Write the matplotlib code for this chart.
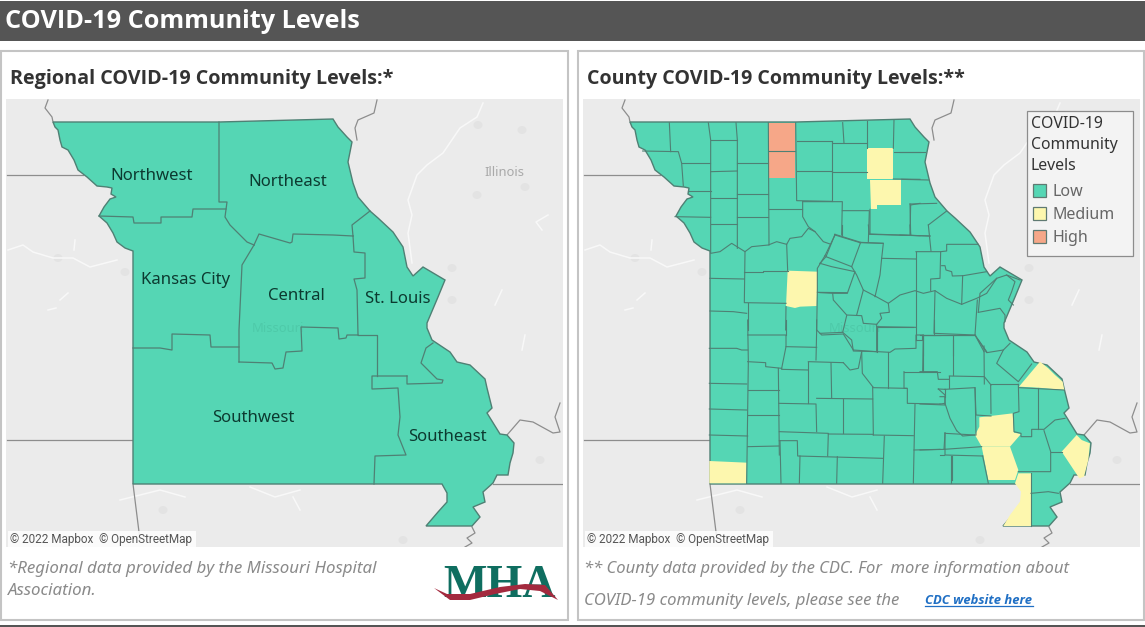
"""Missouri COVID-19 community levels dashboard, two map panels."""
import matplotlib
matplotlib.use("Agg")
import matplotlib.pyplot as plt
from matplotlib.patches import Ellipse, Polygon, Rectangle

# map geometry, in page pixels of the left panel
STATE = [(53,122),(55,127),(58,130),(60,140),(62,147),(68,150),(74,160),(78,170),(87,177),(97,186),(107,187),
         (112,188),(111,194),(116,197),(110,199),(104,207),(99,216),(107,223),(113,233),(117,242),(125,248),
         (133,251),(133,484),(442,484),(447,493),(447,502),(438,512),(426,526),(472,526),(480,517),(473,507),
         (485,502),(483,492),(493,483),(497,475),(508,475),(510,463),(513,453),(514,443),(507,435),(500,434),
         (487,413),(492,408),(487,388),(485,379),(470,365),(457,362),(450,352),(432,340),(427,328),(427,323),
         (438,297),(445,280),(423,267),(413,276),(407,267),(403,247),(393,232),(378,218),(370,211),(358,197),
         (353,183),(348,162),(352,142),(347,137),(338,127),(333,119),(219,122)]

REGION_LINES = [
    [(219,122),(219,202),(227,202),(225,217),(230,225),(238,233),(247,242),(254,245)],
    [(99,216),(133,217),(134,223),(161,223),(161,217),(192,217),(193,209),(226,209)],
    [(254,245),(248,255),(242,265),(239,330),(239,362)],
    [(133,348),(160,348),(172,350),(172,334),(210,335),(211,347),(239,347)],
    [(239,362),(272,363),(275,369),(283,368),(286,352),(302,351),(301,327),(338,328),(339,339),(346,338),(347,335),(358,335)],
    [(254,245),(259,234),(290,243),(292,242),(293,234),(333,235),(353,236)],
    [(353,236),(354,252),(365,253),(365,278),(354,279),(357,290),(358,335)],
    [(370,211),(352,225),(353,236)],
    [(358,335),(377,335),(377,376)],
    [(407,376),(372,376),(372,389),(398,388),(400,417),(398,435),(406,455),(375,456),(374,484)],
    [(407,376),(407,384),(442,383),(443,380),(437,379),(421,363),(426,348),(433,343)],
]

REGION_NAMES = ["Northwest", "Northeast", "Kansas City", "Central", "St. Louis", "Southwest", "Southeast"]
REGION_XY = [(152,174), (288,180), (186,278), (296,294), (398,297), (253,416), (447,435)]

# surroundings, left panel pixels
STATE_BORDERS = [
    [(48,100),(45,108),(52,117),(53,122)],
    [(7,175),(83,175)],
    [(7,440),(133,440)],
    [(133,484),(140,540)],
    [(493,484),(563,484)],
    [(507,435),(520,420),(533,422),(553,433),(560,432),(555,417),(560,403)],
    [(377,100),(374,113),(358,120),(355,128),(357,140)],
    [(472,527),(475,533),(467,538),(472,543),(465,547)],
]
RIVERS = [
    [(483,103),(477,117),(460,128),(443,153),(427,165),(417,175),(408,200),(412,215),(408,233),(412,263)],
    [(8,250),(23,245),(33,252),(53,258),(73,258),(90,267),(117,260)],
    [(542,230),(536,222),(548,215)],
    [(495,305),(502,290)],
    [(75,240),(74,250)],
    [(60,300),(68,293)],
    [(48,310),(56,308)],
    [(120,500),(160,490),(185,497)],
    [(250,487),(275,497),(300,490)],
    [(293,497),(300,510)],
    [(525,335),(522,350)],
]
PATCHES = [(478,125),(522,130),(477,195),(525,187),(452,268),(452,300),(58,258),(125,272),(163,510),(540,460),(403,540)]

LINES_NORTH = ((620,110), [
    [(68,123),(175,125),(185,160),(190,228)],[(148,38),(152,125)],[(185,160),(270,160)],
    [(265,38),(272,90),(272,428)],[(205,243),(272,243)],[(165,320),(272,322)],
    [(272,90),(350,90)],[(272,185),(352,183)],[(272,263),(352,263)],[(272,341),(352,341)],
    [(348,38),(352,90),(352,415)],[(352,158),(445,158)],[(352,252),(445,252)],[(352,322),(445,322)],
    [(445,38),(447,405)],[(446,124),(525,124)],[(447,298),(545,298)],[(527,38),(530,272),(635,274)],[(530,92),(635,92)],
    [(530,184),(635,184)],[(635,92),(635,274)],[(635,100),(740,100)],[(668,38),(672,100)],[(635,186),(740,186)],
    [(548,275),(548,320),(565,350),(585,365)],[(548,275),(667,275),(665,375)],[(667,302),(748,302),(745,395)],
    [(272,430),(300,425),(335,400),(375,425),(395,410),(445,405),(470,395),(500,403),(510,385),(545,380),(565,355),(585,365),(610,395),(630,402)],
    [(740,32),(740,115)],[(822,30),(820,115)],[(822,127),(900,127)],[(820,207),(900,208)],[(872,285),(900,280)],
    [(872,285),(870,375)],[(750,298),(750,372),(900,377)],[(720,398),(790,400)],
    [(645,375),(615,437)],[(645,375),(720,398)],
    [(615,437),(592,475),(592,547),(682,548)],[(500,403),(503,482)],
    [(375,425),(373,578),(498,580)],[(373,487),(430,487),(430,482),(503,482)],[(498,590),(497,660)],[(383,580),(383,660)],
    [(270,505),(373,507)],[(270,603),(340,605),(380,610)],[(592,547),(590,660)],
])
LINES_EAST = ((900,100), [
    [(0,155),(75,155)],[(5,238),(85,240)],[(30,312),(110,310)],[(30,312),(32,405)],[(0,405),(90,408)],
    [(85,375),(140,333)],
])
LINES_CENTER = ((820,225), [
    [(65,0),(65,30)],[(145,0),(148,28),(330,33)],[(270,0),(272,30)],[(325,0),(333,78)],
    [(45,28),(122,52),(95,125),(18,95),(45,28)],[(122,52),(190,55),(185,100),(180,150),(165,215)],
    [(95,125),(110,150),(130,195),(165,213)],[(18,95),(0,115)],[(0,115),(35,125),(105,140),(82,205),(38,205),(0,203)],
    [(130,195),(110,270)],[(38,205),(40,225),(80,270),(125,272),(130,295),(170,298)],
    [(165,213),(205,235),(240,210),(285,197),(310,205),(345,197),(380,220),(425,238),(470,220),(500,205),(530,160),(560,150),(600,165)],
    [(205,235),(208,262),(180,265),(185,280),(170,298),(170,380)],[(185,100),(288,102)],[(288,80),(288,345)],
    [(288,80),(362,80),(360,160),(332,162),(332,197)],[(362,80),(380,78),(380,58),(475,58)],
    [(365,122),(375,122),(378,135),(395,140),(397,153),(430,152),(500,140)],[(428,152),(425,238)],
    [(170,305),(288,307)],[(345,197),(342,325),(465,330)],[(472,225),(465,330),(500,380)],
    [(475,262),(540,250),(555,270),(555,290)],[(530,160),(480,205),(475,262)],
    [(560,150),(585,170),(575,200),(565,225),(580,240)],[(80,272),(68,322),(95,345),(100,378),(170,380)],
    [(288,345),(305,345),(305,330),(465,330)],[(400,332),(400,390)],[(310,330),(310,390)],[(0,325),(68,322)],
])
LINES_SOUTH = ((700,320), [
    [(28,85),(110,85),(125,90),(143,90)],[(143,0),(145,125),(140,490)],[(28,190),(140,192)],[(28,267),(140,270)],
    [(28,345),(143,348)],[(143,45),(258,45),(258,80),(245,145)],[(143,125),(197,128),(197,140),(245,145)],
    [(258,80),(350,82)],[(245,148),(325,150)],[(258,0),(258,45)],[(350,0),(350,30),(348,120)],[(325,125),(430,128)],
    [(325,125),(325,250)],[(235,145),(238,405)],[(143,210),(237,210)],[(143,285),(237,285)],[(143,380),(237,378)],
    [(237,250),(348,252),(350,335)],[(350,235),(518,237)],[(393,128),(395,235)],[(430,237),(430,340)],
    [(518,200),(520,345)],[(350,30),(365,45),(430,42),(460,90),(530,95)],[(485,95),(487,160),(518,200)],
    [(430,128),(450,150),(475,145),(485,95)],[(530,95),(530,22),(640,22)],
    [(533,95),(570,97),(585,87),(648,85),(648,45),(668,45)],[(565,97),(565,205)],[(520,203),(620,205)],
    [(612,155),(612,205),(622,205),(622,250),(720,252)],[(612,155),(720,155)],[(668,45),(668,155)],[(670,45),(720,45)],
    [(645,252),(640,490)],[(642,390),(720,388)],[(520,343),(385,342)],[(238,335),(385,340),(383,408)],
    [(238,362),(292,362),(293,408),(548,415)],[(553,348),(548,490)],[(520,345),(640,347)],[(300,408),(298,490)],
    [(412,410),(410,490)],[(240,362),(243,490)],
])
LINES_SOUTHEAST = ((920,320), [
    [(0,45),(165,45)],[(42,0),(42,45)],[(165,45),(192,95)],[(10,45),(8,155)],
    [(0,155),(52,155),(55,178),(88,178)],[(55,207),(75,208)],[(55,207),(75,225),(75,255),(0,252)],
    [(75,338),(75,405),(188,408)],[(75,388),(0,390)],[(93,408),(93,490)],[(188,408),(205,490)],
    [(333,460),(333,618)],[(333,520),(385,515),(415,520)],
])
LINES_DELTA = ((940,340), [
    [(40,0),(40,105)],[(115,0),(140,38),(190,30),(210,10)],[(190,30),(170,70),(235,125),(275,72)],
    [(132,18),(133,132)],[(28,108),(133,110),(153,135)],[(153,133),(235,133)],[(28,108),(28,145)],
    [(15,148),(105,143),(108,225),(153,228)],[(0,170),(15,170),(15,190),(0,192)],[(15,148),(15,170)],
    [(15,190),(30,235),(50,272)],[(105,143),(108,285)],[(152,135),(153,220)],
    [(235,133),(237,215),(220,220),(222,275),(243,280),(243,290),(275,290),(275,268),(312,268),(345,240),(375,235)],
    [(295,143),(295,268)],[(237,143),(372,150)],[(312,272),(332,335),(332,395),(235,395)],[(332,335),(365,335)],
    [(50,272),(68,288),(105,285)],[(15,280),(105,285)],[(15,280),(12,328),(125,320)],[(35,348),(35,420)],[(0,345),(12,345)],
])

# counties that are not Low, same crops
MEDIUM_COUNTIES = [
    ((620,110), [(740,115),(820,115),(820,207),(740,207)]),
    ((620,110), [(750,210),(842,210),(842,285),(770,285),(770,298),(752,298)]),
    ((620,110), [(503,482),(592,485),(590,588),(540,590),(525,594),(498,588)]),
    ((700,320), [(28,423),(140,428),(138,490),(28,490)]),
    ((940,340), [(118,232),(218,220),(222,278),(243,282),(210,320),(125,320),(105,285),(118,260)]),
    ((940,340), [(125,320),(210,320),(235,390),(225,420),(145,420)]),
    ((920,320), [(295,460),(333,460),(333,618),(250,618),(270,585),(300,545),(303,515),(285,490)]),
    ((940,340), [(237,140),(300,65),(325,85),(345,105),(368,125),(373,150),(295,143)]),
    ((940,340), [(365,335),(410,285),(425,300),(450,310),(445,360),(432,410),(418,415)]),
]
HIGH_COUNTIES = [
    ((620,110), [(445,38),(525,38),(525,124),(446,124)]),
    ((620,110), [(446,124),(525,124),(525,205),(447,205)]),
]

LEVELS = ["Low", "Medium", "High"]
LEVEL_COLORS = ["#55d6b4", "#fdf7ae", "#f6a788"]
BORDER = "#4f8074"
PANEL_SHIFT = 577

plt.rcParams["font.family"] = ["Noto Sans", "DejaVu Sans"]


def from_crop(origin, pts):
    return [(origin[0] + x / 3, origin[1] + y / 3) for x, y in pts]


def shifted(pts, dx):
    return [(x + dx, y) for x, y in pts]


def px(size):
    return size * 0.72


def line(ax, pts, clip=None, **kw):
    xs, ys = zip(*pts)
    art, = ax.plot(xs, ys, solid_joinstyle="round", **kw)
    if clip is not None:
        art.set_clip_path(clip)
    return art


def draw_base(ax, dx):
    """Grey base map with the filled state on top."""
    back = Rectangle((6 + dx, 99), 557, 448, fc="#ebebeb", ec="none", zorder=1)
    ax.add_patch(back)
    for x, y in PATCHES:
        spot = Ellipse((x + dx, y), 9, 8, fc="#e3e3e3", ec="none", zorder=1.1)
        ax.add_patch(spot)
        spot.set_clip_path(back)
    for pts in RIVERS:
        line(ax, shifted(pts, dx), clip=back, color="#f8f8f8", lw=1.1, zorder=1.2)
    for pts in STATE_BORDERS:
        line(ax, shifted(pts, dx), clip=back, color="#8d8d8d", lw=0.9, zorder=1.3)
    ax.text(504 + dx, 173, "Illinois", fontsize=px(13), color="#a9a9a9", ha="center", va="center", zorder=1.4)
    ax.add_patch(Polygon(shifted(STATE, dx), closed=True, fc=LEVEL_COLORS[0], ec=BORDER, lw=1.0, zorder=2))
    ax.text(278 + dx, 329, "Missouri", fontsize=px(13), color="#4ecaa9", ha="center", va="center", zorder=2.1)
    ax.add_patch(Rectangle((8 + dx, 531), 188, 16, fc="white", ec="none", alpha=0.85, zorder=4))
    ax.text(10 + dx, 539, "© 2022 Mapbox  © OpenStreetMap", fontsize=px(11.7), color="#555555",
            va="center", family="Roboto", zorder=5)


fig = plt.figure(figsize=(11.45, 6.27), dpi=100, facecolor="white")
ax = fig.add_axes([0, 0, 1, 1])
ax.set_xlim(0, 1145)
ax.set_ylim(627, 0)
ax.axis("off")

# header and frames
ax.add_patch(Rectangle((0, 1), 1145, 40, fc="#555555", ec="none"))
ax.add_patch(Rectangle((0, 625), 1145, 2, fc="#555555", ec="none"))
ax.text(5, 22, "COVID-19 Community Levels", fontsize=px(25.3), fontweight="bold", family="Open Sans", color="white", va="center")
for x0, x1 in [(1, 568), (578, 1144)]:
    ax.add_patch(Rectangle((x0, 50.5), x1 - x0, 569, fc="white", ec="#c4c4c4", lw=1.5))
ax.text(10, 79, "Regional COVID-19 Community Levels:*", fontsize=px(19.8), fontweight="bold", family="Open Sans", color="#333333", va="center")
ax.text(587, 79, "County COVID-19 Community Levels:**", fontsize=px(19.7), fontweight="bold", family="Open Sans", color="#333333", va="center")

# left map
draw_base(ax, 0)
for pts in REGION_LINES:
    line(ax, pts, color=BORDER, lw=0.9, zorder=3)
for name, (x, y) in zip(REGION_NAMES, REGION_XY):
    ax.text(x, y + 2, name, fontsize=px(16.7), color="#0c3a30", ha="center", va="center", zorder=4)

# right map
draw_base(ax, PANEL_SHIFT)
for origin, pts in MEDIUM_COUNTIES:
    ax.add_patch(Polygon(from_crop(origin, pts), closed=True, fc=LEVEL_COLORS[1], ec="none", zorder=2.5))
for origin, pts in HIGH_COUNTIES:
    ax.add_patch(Polygon(from_crop(origin, pts), closed=True, fc=LEVEL_COLORS[2], ec="none", zorder=2.5))
for origin, segments in [LINES_NORTH, LINES_EAST, LINES_CENTER, LINES_SOUTH, LINES_SOUTHEAST, LINES_DELTA]:
    for pts in segments:
        line(ax, from_crop(origin, pts), color=BORDER, lw=0.8, zorder=3)

# legend
ax.add_patch(Rectangle((1026.5, 110.5), 106, 145, fc="#f3f3f3", ec="#8c8c8c", lw=0.9, zorder=5))
for y, txt in zip([122, 143, 164], ["COVID-19", "Community", "Levels"]):
    ax.text(1031, y + 2, txt, fontsize=px(15.8), color="#333333", va="center", zorder=6)
for y, name, col in zip([190, 213, 236], LEVELS, LEVEL_COLORS):
    ax.add_patch(Rectangle((1032.5, y - 6.5), 13, 13, fc=col, ec="#5f7a72", lw=0.9, zorder=6))
    ax.text(1052, y + 2, name, fontsize=px(16), color="#666666", va="center", zorder=6)

# footnotes
note = dict(fontsize=px(16.7), style="italic", color="#8a8a8a", va="center")
ax.text(8, 569, "*Regional data provided by the Missouri Hospital", fontsize=px(16.9), style="italic", color="#8a8a8a", va="center")
ax.text(8, 591, "Association.", fontsize=px(16.9), style="italic", color="#8a8a8a", va="center")
ax.text(584, 569, "** County data provided by the CDC. For  more information about", fontsize=px(16.6), style="italic", color="#8a8a8a", va="center")
ax.text(584, 601, "COVID-19 community levels, please see the", **note)
ax.text(925, 600, "CDC website here", fontsize=px(13), style="italic", fontweight="bold", family="Open Sans", color="#1f6fc4", va="center")
ax.plot([925, 1033], [606, 606], color="#1f6fc4", lw=0.9)

# logo
ax.text(499, 586, "MHA", family="Liberation Serif", fontweight="bold", fontsize=px(46), color="#0f6e60", ha="center", va="center", zorder=6)
swoosh_top = [(434,588),(447,594),(470,594),(500,587),(525,584),(545,585),(558,600)]
swoosh_low = [(558,600),(540,591),(520,589),(495,594),(470,600),(450,600)]
ax.add_patch(Polygon(swoosh_top + swoosh_low, closed=True, fc="#a32a3e", ec="none", zorder=7))

fig.savefig("out.png", dpi=100)
plt.close(fig)
